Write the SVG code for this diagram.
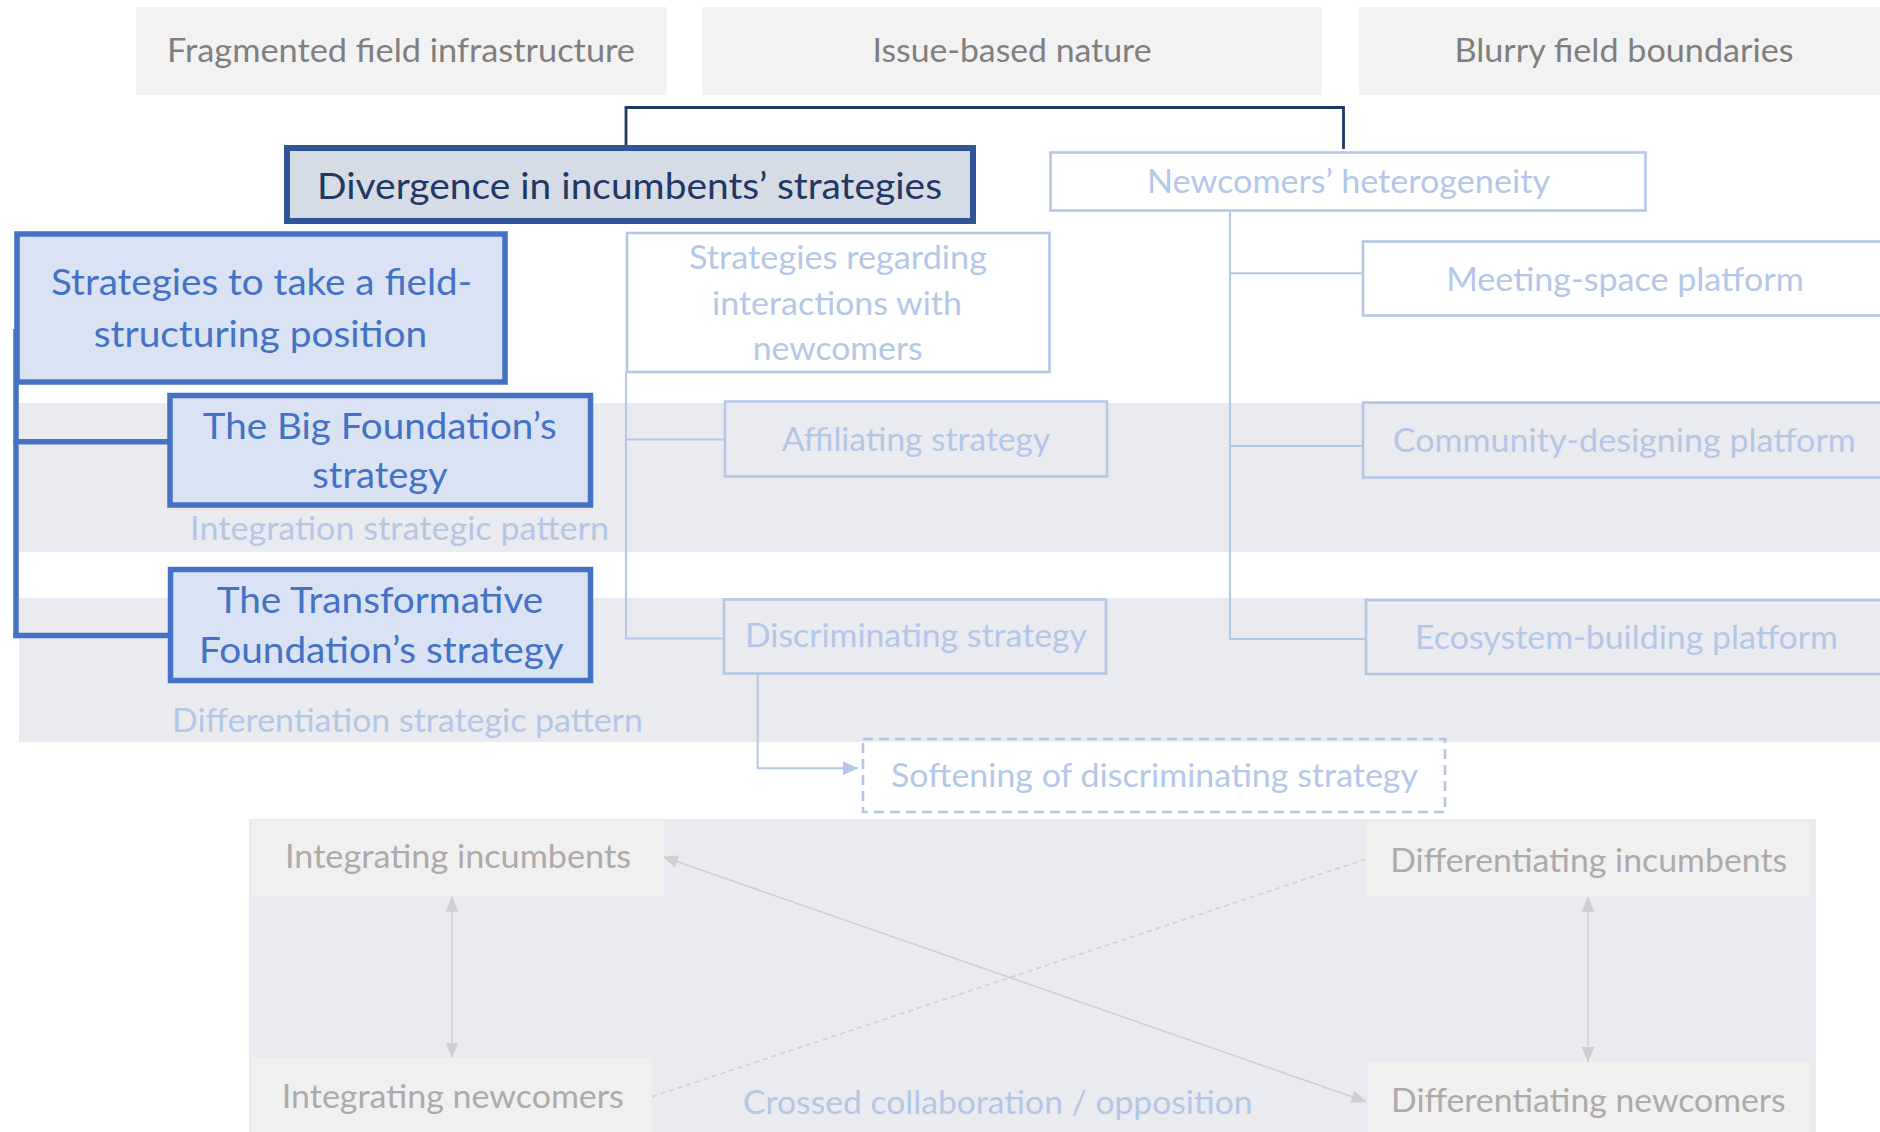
<svg xmlns="http://www.w3.org/2000/svg" width="1880" height="1132" viewBox="0 0 1880 1132">
<style>
text{font-family:Lato,"Open Sans","Liberation Sans",sans-serif;text-anchor:middle}
.top{fill:#f2f2f2}
.toptx{fill:#7f7f7f;font-size:33.5px}
.div{fill:#d6dce5;stroke:#2f5597;stroke-width:6}
.divtx{fill:#1f3864;font-size:37px}
.blue{fill:#dae3f3;stroke:#4472c4;stroke-width:5.5}
.bluetx{fill:#4472c4;font-size:37px}
.light{fill:none;stroke:#b4c7e7;stroke-width:2.6}
.lightw{fill:#fff;stroke:#b4c7e7;stroke-width:2.6}
.lighttx{fill:#b4c7e7;font-size:32.5px}
.band{fill:#e9ebf0}
.gbox{fill:#f0f0f0}
.gtx{fill:#aeaaaa;font-size:32.5px}
.lnav{fill:none;stroke:#1f3864;stroke-width:2.8}
.lblue{fill:none;stroke:#4472c4;stroke-width:5.5}
.llight{fill:none;stroke:#b4c7e7;stroke-width:2}
.lgray{fill:none;stroke:#d0cece;stroke-width:1.5}
</style>
<defs>
<marker id="ab" markerUnits="userSpaceOnUse" markerWidth="16" markerHeight="16" refX="15" refY="7" orient="auto"><path d="M0,0 L15,7 L0,14 z" fill="#b4c7e7"/></marker>
<marker id="ag" markerUnits="userSpaceOnUse" markerWidth="16" markerHeight="16" refX="15" refY="7" orient="auto-start-reverse"><path d="M0,0.5 L15,7 L0,13.5 z" fill="#d0cece"/></marker>
</defs>
<rect width="1880" height="1132" fill="#fff"/>
<g id="bands">
<rect class="band" x="19" y="403" width="1861" height="149"/>
<rect class="band" x="19" y="598" width="1861" height="144"/>
<rect class="band" x="249" y="819" width="1567" height="320"/>
</g>
<g id="connectors">
<path class="lnav" d="M626,146 V107.5 H1343.5 V149"/>
<path class="lblue" d="M16,329 V638"/>
<path class="lblue" d="M13.5,441.7 H170"/>
<path class="lblue" d="M13.5,635.5 H170"/>
<path class="llight" d="M626,372 V638.5 H724"/>
<path class="llight" d="M626,439.5 H725"/>
<path class="llight" d="M1230,211 V639 H1366"/>
<path class="llight" d="M1230,273.3 H1363"/>
<path class="llight" d="M1230,446 H1363"/>
<path class="llight" d="M757.7,674 V768.3 H858" marker-end="url(#ab)"/>
<path class="lgray" d="M452,896.7 V1057.7" marker-start="url(#ag)" marker-end="url(#ag)"/>
<path class="lgray" d="M1588,897 V1062" marker-start="url(#ag)" marker-end="url(#ag)"/>
<path class="lgray" d="M663,856.7 L1366.4,1101.7" marker-start="url(#ag)" marker-end="url(#ag)"/>
<path class="lgray" d="M652,1096.7 L1366,859" stroke-dasharray="5 4"/>
</g>
<g id="fragmented"><rect class="top" x="136" y="7" width="531" height="88"/><text class="toptx" x="401" y="62" textLength="468" lengthAdjust="spacingAndGlyphs">Fragmented field infrastructure</text></g>
<g id="issue"><rect class="top" x="702" y="7" width="620" height="88"/><text class="toptx" x="1012" y="62" textLength="279" lengthAdjust="spacingAndGlyphs">Issue-based nature</text></g>
<g id="blurry"><rect class="top" x="1359" y="7" width="531" height="88"/><text class="toptx" x="1624" y="62" textLength="339" lengthAdjust="spacingAndGlyphs">Blurry field boundaries</text></g>
<g id="divergence"><rect class="div" x="287" y="148" width="686" height="73"/><text class="divtx" x="629.5" y="199" textLength="625" lengthAdjust="spacingAndGlyphs">Divergence in incumbents’ strategies</text></g>
<g id="newcomers-heterogeneity"><rect class="lightw" x="1050.5" y="152.5" width="595" height="58"/><text class="lighttx" x="1348.5" y="193.3" textLength="403" lengthAdjust="spacingAndGlyphs">Newcomers’ heterogeneity</text></g>
<g id="strategies-position"><rect class="blue" x="17" y="234" width="488" height="148"/>
<text class="bluetx" x="261.5" y="295" textLength="421" lengthAdjust="spacingAndGlyphs">Strategies to take a field-</text>
<text class="bluetx" x="260.5" y="346.7" textLength="333.5" lengthAdjust="spacingAndGlyphs">structuring position</text></g>
<g id="strategies-interactions"><rect class="lightw" x="627" y="233" width="422.5" height="139"/>
<text class="lighttx" x="838" y="269.3" textLength="298" lengthAdjust="spacingAndGlyphs">Strategies regarding</text>
<text class="lighttx" x="837" y="315" textLength="250" lengthAdjust="spacingAndGlyphs">interactions with</text>
<text class="lighttx" x="837.7" y="360" textLength="170" lengthAdjust="spacingAndGlyphs">newcomers</text></g>
<g id="meeting-space"><rect class="lightw" x="1363" y="241.5" width="600" height="74"/><text class="lighttx" x="1625" y="290.7" textLength="357.6" lengthAdjust="spacingAndGlyphs">Meeting-space platform</text></g>
<g id="big-foundation"><rect class="blue" x="170" y="395.5" width="420.5" height="109.5"/>
<text class="bluetx" x="379.8" y="439.3" font-size="38.5" textLength="354" lengthAdjust="spacingAndGlyphs">The Big Foundation’s</text>
<text class="bluetx" x="380" y="488.3" font-size="38.5" textLength="135.5" lengthAdjust="spacingAndGlyphs">strategy</text></g>
<g id="affiliating"><rect class="light" x="725" y="401.5" width="382" height="75"/><text class="lighttx" x="916" y="450.7" textLength="268.5" lengthAdjust="spacingAndGlyphs">Affiliating strategy</text></g>
<g id="community-designing"><rect class="light" x="1363" y="402.5" width="600" height="75"/><text class="lighttx" x="1624.3" y="451.7" textLength="463" lengthAdjust="spacingAndGlyphs">Community-designing platform</text></g>
<g id="integration-pattern"><text class="lighttx" x="399.6" y="540" font-size="31.5" textLength="419" lengthAdjust="spacingAndGlyphs">Integration strategic pattern</text></g>
<g id="transformative"><rect class="blue" x="170.5" y="569.5" width="420" height="111"/>
<text class="bluetx" x="380" y="613.3" font-size="38.5" textLength="326.6" lengthAdjust="spacingAndGlyphs">The Transformative</text>
<text class="bluetx" x="381.4" y="663.3" font-size="38.5" textLength="364.8" lengthAdjust="spacingAndGlyphs">Foundation’s strategy</text></g>
<g id="discriminating"><rect class="light" x="724" y="599.5" width="382" height="74"/><text class="lighttx" x="916" y="646.7" textLength="342" lengthAdjust="spacingAndGlyphs">Discriminating strategy</text></g>
<g id="ecosystem-building"><rect class="light" x="1366" y="600" width="600" height="74"/><text class="lighttx" x="1626.5" y="649.3" textLength="423" lengthAdjust="spacingAndGlyphs">Ecosystem-building platform</text></g>
<g id="differentiation-pattern"><text class="lighttx" x="407.5" y="731.7" font-size="31.5" textLength="471" lengthAdjust="spacingAndGlyphs">Differentiation strategic pattern</text></g>
<g id="softening"><rect class="light" x="863" y="739" width="582" height="73" stroke-dasharray="10 6"/><text class="lighttx" x="1154.5" y="786.7" textLength="527" lengthAdjust="spacingAndGlyphs">Softening of discriminating strategy</text></g>
<g id="integrating-incumbents"><rect class="gbox" x="252" y="820" width="412" height="76"/><text class="gtx" x="458" y="868.3" textLength="346" lengthAdjust="spacingAndGlyphs">Integrating incumbents</text></g>
<g id="differentiating-incumbents"><rect class="gbox" x="1366" y="822" width="444" height="75"/><text class="gtx" x="1588.7" y="871.7" textLength="397" lengthAdjust="spacingAndGlyphs">Differentiating incumbents</text></g>
<g id="integrating-newcomers"><rect class="gbox" x="252" y="1058" width="400" height="80"/><text class="gtx" x="452.8" y="1108.3" textLength="342" lengthAdjust="spacingAndGlyphs">Integrating newcomers</text></g>
<g id="differentiating-newcomers"><rect class="gbox" x="1367.5" y="1062" width="443.5" height="76"/><text class="gtx" x="1588.3" y="1111.7" textLength="394.5" lengthAdjust="spacingAndGlyphs">Differentiating newcomers</text></g>
<g id="crossed-label"><text class="lighttx" x="997.8" y="1114" font-size="33.5" textLength="509.5" lengthAdjust="spacingAndGlyphs">Crossed collaboration / opposition</text></g>
</svg>
